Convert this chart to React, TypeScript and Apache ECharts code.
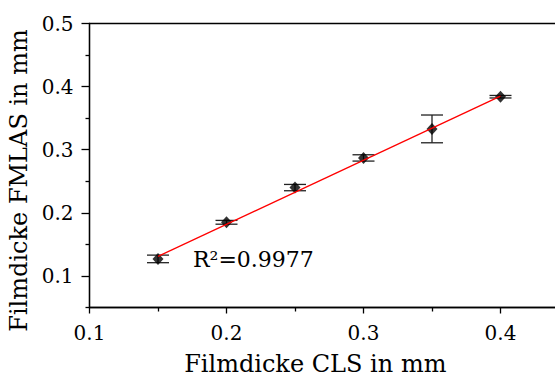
import React, { useEffect, useRef } from 'react';
import * as echarts from 'echarts';

const xValues = [0.15, 0.2, 0.25, 0.3, 0.35, 0.4];
const yValues = [0.127, 0.185, 0.24, 0.287, 0.333, 0.384];
const yErrors = [0.006, 0.003, 0.005, 0.005, 0.022, 0.002];
const fitLine = [
  [0.15, 0.131],
  [0.4, 0.385],
];
const xMajorTicks = [0.1, 0.2, 0.3, 0.4];
const xMinorTicks = [0.15, 0.25, 0.35];
const yMajorTicks = [0.1, 0.2, 0.3, 0.4, 0.5];
const yMinorTicks = [0.05, 0.15, 0.25, 0.35, 0.45];
const xTitle = 'Filmdicke CLS in mm';
const yTitle = 'Filmdicke FMLAS in mm';
const r2Label = 'R²=0.9977';

const FONT = 'DejaVu Serif';
const AX = { color: '#000', width: 1.3 };

export default function App() {
  const ref = useRef<HTMLDivElement>(null);
  useEffect(() => {
    if (!ref.current) return;
    const chart = echarts.init(ref.current, undefined, { renderer: 'svg' });
    const errData = xValues.map((x, i) => [x, yValues[i] - yErrors[i], yValues[i] + yErrors[i]]);
    chart.setOption({
      animation: false,
      backgroundColor: '#fff',
      grid: {
        left: 89.5,
        right: 0,
        top: 23.5,
        bottom: 68.5,
        show: true,
        borderColor: '#000',
        borderWidth: 1.3,
        backgroundColor: 'transparent',
        containLabel: false,
        outerBoundsMode: 'none',
      },
      xAxis: [
        {
          type: 'value',
          min: 0.1,
          max: 0.45,
          position: 'bottom',
          axisLine: { show: true, onZero: false, lineStyle: AX },
          axisTick: { show: true, inside: false, length: 6, customValues: xMajorTicks, lineStyle: AX },
          axisLabel: {
            customValues: xMajorTicks,
            formatter: (v: number) => v.toFixed(1),
            fontFamily: FONT,
            fontSize: 20,
            color: '#000',
            margin: 15,
          },
          splitLine: { show: false },
          name: xTitle,
          nameLocation: 'middle',
          nameGap: 44,
          nameTextStyle: { fontFamily: FONT, fontSize: 24, color: '#000', padding: [0, 28, 0, 0] },
        },
        {
          type: 'value',
          min: 0.1,
          max: 0.45,
          position: 'bottom',
          axisLine: { show: false, onZero: false },
          axisTick: { show: true, inside: false, length: 4, customValues: xMinorTicks, lineStyle: AX },
          axisLabel: { show: false },
          splitLine: { show: false },
        },
      ],
      yAxis: [
        {
          type: 'value',
          min: 0.05,
          max: 0.5,
          position: 'left',
          axisLine: { show: true, onZero: false, lineStyle: AX },
          axisTick: { show: true, inside: false, length: 8, customValues: yMajorTicks, lineStyle: AX },
          axisLabel: {
            customValues: yMajorTicks,
            formatter: (v: number) => v.toFixed(1),
            fontFamily: FONT,
            fontSize: 20,
            color: '#000',
            margin: 16,
          },
          splitLine: { show: false },
          name: yTitle,
          nameLocation: 'middle',
          nameGap: 53,
          nameRotate: 90,
          nameTextStyle: { fontFamily: FONT, fontSize: 24, color: '#000', padding: [0, 30, 0, 0] },
        },
        {
          type: 'value',
          min: 0.05,
          max: 0.5,
          position: 'left',
          axisLine: { show: false, onZero: false },
          axisTick: { show: true, inside: false, length: 4, customValues: yMinorTicks, lineStyle: AX },
          axisLabel: { show: false },
          splitLine: { show: false },
        },
      ],
      series: [
        {
          type: 'custom',
          xAxisIndex: 0,
          yAxisIndex: 0,
          data: errData,
          encode: { x: 0, y: [1, 2] },
          z: 2,
          renderItem: (params: any, api: any) => {
            const x = api.value(0);
            const pLo = api.coord([x, api.value(1)]);
            const pHi = api.coord([x, api.value(2)]);
            const hw = 11;
            const style = { stroke: '#222', lineWidth: 1.3 };
            return {
              type: 'group',
              children: [
                { type: 'line', shape: { x1: pLo[0], y1: pLo[1], x2: pHi[0], y2: pHi[1] }, style },
                { type: 'line', shape: { x1: pLo[0] - hw, y1: pLo[1], x2: pLo[0] + hw, y2: pLo[1] }, style },
                { type: 'line', shape: { x1: pHi[0] - hw, y1: pHi[1], x2: pHi[0] + hw, y2: pHi[1] }, style },
              ],
            };
          },
        },
        {
          type: 'scatter',
          xAxisIndex: 0,
          yAxisIndex: 0,
          data: xValues.map((x, i) => [x, yValues[i]]),
          symbol: 'diamond',
          symbolSize: [11, 12],
          itemStyle: { color: '#000' },
          z: 3,
        },
        {
          type: 'line',
          xAxisIndex: 0,
          yAxisIndex: 0,
          data: fitLine,
          showSymbol: false,
          symbol: 'none',
          lineStyle: { color: '#ff0000', width: 1.3 },
          z: 4,
        },
      ],
      graphic: [
        {
          type: 'text',
          left: 193,
          top: 248,
          style: { text: r2Label, fontFamily: FONT, fontSize: 22, fill: '#000' },
        },
      ],
    });
    return () => chart.dispose();
  }, []);
  return (
    <div style={{ position: 'absolute', left: 0, top: 0, width: 555, height: 376, overflow: 'hidden', background: '#fff' }}>
      <div ref={ref} style={{ width: 569, height: 376 }} />
    </div>
  );
}
